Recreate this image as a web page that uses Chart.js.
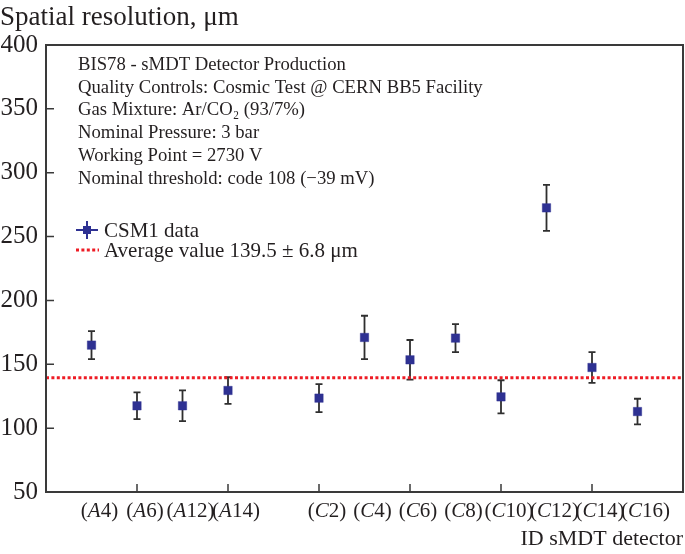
<!DOCTYPE html>
<html>
<head>
<meta charset="utf-8">
<script src="https://cdn.jsdelivr.net/npm/chart.js@4/dist/chart.umd.min.js"></script>
<style>
  html, body { margin: 0; padding: 0; background: #fff; }
  #wrap { width: 685px; height: 554px; }
</style>
</head>
<body>
<div id="wrap"><canvas id="res"></canvas></div>
<script>
// detector ids, their slot on the x axis, resolution and error (um)
const sides = ["A", "A", "A", "A", "C", "C", "C", "C", "C", "C", "C", "C"];
const numbers = ["4", "6", "12", "14", "2", "4", "6", "8", "10", "12", "14", "16"];
const slots = [1, 2, 3, 4, 6, 7, 8, 9, 10, 11, 12, 13];
const resolution = [165, 117.5, 117.5, 129.5, 123.5, 171, 153.5, 170.5, 124.5, 272.5, 147.5, 113];
const errors = [11, 10.5, 12, 10.5, 11, 17, 15.5, 11, 13, 18, 12, 10];
const average = 139.5;
const xRange = [0, 14];
const yRange = [50, 400];

const infoLines = [
  "BIS78 - sMDT Detector Production",
  "Quality Controls: Cosmic Test @ CERN BB5 Facility",
  "Gas Mixture: Ar/CO\u2082 (93/7%)",
  "Nominal Pressure: 3 bar",
  "Working Point = 2730 V",
  "Nominal threshold: code 108 (\u221239 mV)"
];

const serif = "'Liberation Serif', 'DejaVu Serif', serif";
const ink = "#231f20";
const blue = "#2e3192";

const points = slots.map((s, i) => ({ x: s, y: resolution[i] }));

// error bars under the squares
const errorBars = {
  id: "errorBars",
  beforeDatasetsDraw(chart) {
    const c = chart.ctx, xs = chart.scales.x, ys = chart.scales.y;
    c.save();
    c.strokeStyle = "#2f2f2f";
    c.lineWidth = 1.8;
    for (let i = 0; i < slots.length; i++) {
      let px = xs.getPixelForValue(slots[i]);
      let top = ys.getPixelForValue(resolution[i] + errors[i]);
      let bot = ys.getPixelForValue(resolution[i] - errors[i]);
      c.beginPath();
      c.moveTo(px, top); c.lineTo(px, bot);
      c.moveTo(px - 3.5, top); c.lineTo(px + 3.5, top);
      c.moveTo(px - 3.5, bot); c.lineTo(px + 3.5, bot);
      c.stroke();
    }
    c.restore();
  }
};

// frame, inward ticks, labels, legend, texts
const decorations = {
  id: "decorations",
  afterDraw(chart) {
    const c = chart.ctx, a = chart.chartArea, xs = chart.scales.x, ys = chart.scales.y;
    c.save();
    c.strokeStyle = "#3a3a3a";
    c.lineWidth = 2;
    c.strokeRect(a.left, a.top, a.right - a.left, a.bottom - a.top);

    c.lineWidth = 1.5;
    c.beginPath();
    xs.ticks.forEach(t => {
      if (t.value <= xRange[0] || t.value >= xRange[1]) return;
      let px = xs.getPixelForValue(t.value);
      c.moveTo(px, a.bottom); c.lineTo(px, a.bottom - 8);
    });
    ys.ticks.forEach(t => {
      if (t.value <= yRange[0] || t.value >= yRange[1]) return;
      let py = ys.getPixelForValue(t.value);
      c.moveTo(a.left, py); c.lineTo(a.left + 8, py);
    });
    c.stroke();

    // x labels like (A4) with italic side letter, set a little right of the point
    c.fillStyle = ink;
    c.textBaseline = "alphabetic";
    const up = "21px " + serif, it = "italic 21px " + serif;
    for (let i = 0; i < slots.length; i++) {
      c.font = up;
      let w1 = c.measureText("(").width;
      let w3 = c.measureText(numbers[i] + ")").width;
      c.font = it;
      let w2 = c.measureText(sides[i]).width;
      let x0 = xs.getPixelForValue(slots[i]) + 8 - (w1 + w2 + w3) / 2;
      c.textAlign = "left";
      c.font = up; c.fillText("(", x0, 517);
      c.font = it; c.fillText(sides[i], x0 + w1, 517);
      c.font = up; c.fillText(numbers[i] + ")", x0 + w1 + w2, 517);
    }

    // axis titles
    c.font = "27px " + serif;
    c.textAlign = "left";
    c.fillText("Spatial resolution, \u03bcm", 0, 25);
    c.font = "22px " + serif;
    c.textAlign = "right";
    c.fillText("ID sMDT detector", a.right, 545);

    // info block
    c.font = "18.7px " + serif;
    c.textAlign = "left";
    infoLines.forEach((t, i) => c.fillText(t, 78, 70 + i * 22.7));

    // legend
    c.strokeStyle = blue;
    c.lineWidth = 2;
    c.beginPath();
    c.moveTo(76, 230); c.lineTo(98, 230);
    c.moveTo(87, 221); c.lineTo(87, 239);
    c.stroke();
    c.fillStyle = blue;
    c.fillRect(83, 226, 8, 8);
    c.strokeStyle = "#ee1c25";
    c.lineWidth = 3;
    c.setLineDash([3, 2.4]);
    c.beginPath();
    c.moveTo(76, 250); c.lineTo(99, 250);
    c.stroke();
    c.setLineDash([]);
    c.fillStyle = ink;
    c.font = "21px " + serif;
    c.fillText("CSM1 data", 104, 237);
    c.fillText("Average value 139.5 \u00b1 6.8 \u03bcm", 104, 257);
    c.restore();
  }
};

new Chart(document.getElementById("res"), {
  type: "scatter",
  data: {
    datasets: [
      {
        label: "Average value",
        type: "line",
        data: [{ x: xRange[0], y: average }, { x: xRange[1], y: average }],
        borderColor: "#ee1c25",
        borderWidth: 3,
        borderDash: [3, 2.4],
        pointRadius: 0,
        fill: false
      },
      {
        label: "CSM1 data",
        data: points,
        pointStyle: "rect",
        pointRadius: 6,
        pointBackgroundColor: blue,
        pointBorderColor: "rgba(46,49,146,0.35)",
        pointBorderWidth: 1
      }
    ]
  },
  options: {
    responsive: true,
    maintainAspectRatio: false,
    animation: false,
    layout: { autoPadding: false, padding: { top: 45, right: 2, left: 0, bottom: 0 } },
    plugins: { legend: { display: false }, tooltip: { enabled: false } },
    scales: {
      x: {
        type: "linear",
        min: xRange[0], max: xRange[1],
        ticks: { display: false, stepSize: 2 },
        grid: { display: false, drawTicks: false },
        border: { display: false },
        afterFit: s => { s.height = 62; }
      },
      y: {
        min: yRange[0], max: yRange[1],
        ticks: { stepSize: 50, color: ink, padding: 8, font: { family: serif, size: 25 } },
        grid: { display: false, drawTicks: false },
        border: { display: false },
        afterFit: s => { s.width = 46; }
      }
    }
  },
  plugins: [errorBars, decorations]
});
</script>
</body>
</html>
